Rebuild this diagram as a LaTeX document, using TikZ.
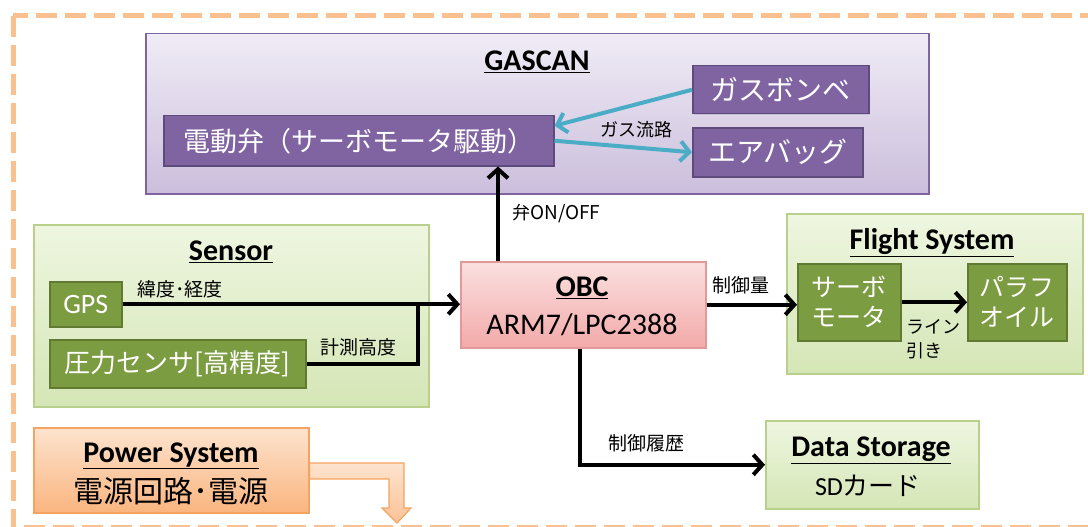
\documentclass[tikz,border=0pt]{standalone}
\usepackage{fontspec}
\setmainfont{Carlito}
\newfontfamily\jp{Noto Sans CJK JP}
\usetikzlibrary{arrows.meta,shadows}
\definecolor{dashorange}{HTML}{FAC090}
\definecolor{purpB}{HTML}{8064A2}
\definecolor{purpD}{HTML}{5F4A7D}
\definecolor{purpT}{HTML}{F0ECF6}
\definecolor{purpBot}{HTML}{CBBEDC}
\definecolor{grnT}{HTML}{EEF6E0}
\definecolor{grnBot}{HTML}{D5E6B6}
\definecolor{grnB}{HTML}{B9D08C}
\definecolor{grnIn}{HTML}{7C9C42}
\definecolor{grnInB}{HTML}{617A31}
\definecolor{pinkT}{HTML}{FBE0E0}
\definecolor{pinkBot}{HTML}{F3A9A9}
\definecolor{pinkB}{HTML}{E29A98}
\definecolor{orT}{HTML}{FDE3CE}
\definecolor{orBot}{HTML}{FAB57F}
\definecolor{orB}{HTML}{F4A460}
\definecolor{cyanA}{HTML}{4BACC6}
\tikzset{
  box/.style={anchor=north west, inner sep=0pt, align=center, drop shadow={shadow xshift=1.5pt,shadow yshift=-1.5pt,opacity=0.25}},
  outerP/.style={box, draw=purpB, line width=1.5pt, top color=purpT, bottom color=purpBot},
  innerP/.style={box, draw=purpD, line width=1.5pt, fill=purpB, text=white, font=\jp\fontsize{28}{32}\selectfont},
  outerG/.style={box, draw=grnB, line width=1.5pt, top color=grnT, bottom color=grnBot},
  innerG/.style={box, draw=grnInB, line width=1.5pt, fill=grnIn, text=white, font=\jp\fontsize{25}{30}\selectfont},
  pinkbox/.style={box, draw=pinkB, line width=1.5pt, top color=pinkT, bottom color=pinkBot},
  orbox/.style={box, draw=orB, line width=1.5pt, top color=orT, bottom color=orBot},
  ttl/.style={font=\bfseries\fontsize{30}{34}\selectfont},
  lbl/.style={font=\jp\fontsize{19}{22}\selectfont, inner sep=0pt},
  arr/.style={draw=black, line width=4pt, -{Straight Barb[length=9pt,width=20pt,line width=4pt]}},
  plain/.style={draw=black, line width=4pt},
  carr/.style={draw=cyanA, line width=4pt, -{Straight Barb[length=9pt,width=20pt,line width=4pt]}},
}
\begin{document}
\begin{tikzpicture}[x=1pt,y=-1pt]
\useasboundingbox (0,0) rectangle (1088,527);
% outer dashed frame
\draw[dashorange, line width=5pt, dash pattern=on 21pt off 8pt] (13,16) rectangle (1090,527);

% GASCAN
\node[outerP, minimum width=783pt, minimum height=160pt] (gascan) at (145,33) {};
\node[ttl] (gascanT) at (537,62) {\underline{GASCAN}};
\node[innerP, minimum width=390pt, minimum height=50pt, font=\jp\fontsize{27}{30}\selectfont] (valve) at (163,115) {電動弁（サーボモータ駆動）};
\node[innerP, minimum width=176pt, minimum height=48pt] (bombe) at (692,65) {ガスボンベ};
\node[innerP, minimum width=170pt, minimum height=49pt] (air) at (692,127) {エアバッグ};
\draw[carr] (bombe.west) -- ([yshift=15pt]valve.east);
\draw[carr] (valve.east) -- (air.west);
\node[lbl, font=\jp\fontsize{18}{22}\selectfont] (gasL) at (636,130) {ガス流路};

% Sensor
\node[outerG, minimum width=395pt, minimum height=182pt] (sensor) at (33,224) {};
\node[ttl] (sensorT) at (231,252) {\underline{Sensor}};
\node[innerG, minimum width=72pt, minimum height=45pt, font=\fontsize{28}{32}\selectfont] (gps) at (49,281) {GPS};
\node[innerG, minimum width=256pt, minimum height=48pt, font=\jp\fontsize{26}{30}\selectfont] (press) at (49,339) {圧力センサ[高精度]};
\node[lbl] (gpsL) at (180,289) {緯度･経度};
\node[lbl] (pressL) at (358,347) {計測高度};

% OBC
\node[pinkbox, minimum width=245pt, minimum height=86pt] (obc) at (460,261) {};
\node[ttl] (obcT) at (582,288) {\underline{OBC}};
\node[font=\fontsize{30}{34}\selectfont] (obcS) at (582,325) {ARM7/LPC2388};

\coordinate (join) at (418,305);
\draw[arr] (gps.east) -- (gps.east -| obc.west);
\draw[plain] (press.east) -| (join);

% up arrow to valve
\draw[arr] ([xshift=38pt]obc.north west) -- ([xshift=38pt]obc.north west |- valve.south);
\node[lbl, anchor=west] (onoffL) at (512,214) {{\jp\fontsize{18}{22}\selectfont 弁}\fontsize{19}{22}\selectfont ON/OFF};

% Flight System
\node[outerG, minimum width=296pt, minimum height=160pt] (flight) at (786,213) {};
\node[ttl] (flightT) at (932,243) {\underline{Flight System}};
\node[innerG, minimum width=103pt, minimum height=77pt] (servo) at (797,263) {サーボ\\モータ};
\node[innerG, minimum width=99pt, minimum height=77pt] (para) at (967,263) {パラフ\\オイル};
\draw[arr] (obc.east) -- (obc.east -| servo.west);
\node[lbl] (ctrlL) at (741,285) {制御量};
\draw[arr] (servo.east) -- (para.west);
\node[lbl, align=left, font=\jp\fontsize{18}{24}\selectfont] (lineL) at (933,339) {ライン\\引き};

% Data storage
\node[outerG, minimum width=213pt, minimum height=88pt] (ds) at (765,420) {};
\node[ttl] (dsT) at (871,450) {\underline{Data Storage}};
\node[font=\fontsize{26}{30}\selectfont] (dsS) at (868,486) {SD{\jp カード}};
\draw[arr] ([xshift=120pt]obc.south west) |- (ds.west);
\node[lbl] (histL) at (646,443) {制御履歴};

% Power system
\node[orbox, minimum width=275pt, minimum height=85pt] (power) at (33,427) {};
\node[ttl] (powerT) at (171,456) {\underline{Power System}};
\node[font=\jp\fontsize{30}{34}\selectfont] (powerS) at (171,491) {電源回路･電源};
\shade[top color=orT, bottom color=orBot!70!orT, draw=orB, line width=1.2pt]
  (power.east |- 0,463) -- (404,463) -- (404,508) -- (411,508) -- (397,523) -- (382,508) -- (389,508) -- (389,479) -- (power.east |- 0,479) -- cycle;
\end{tikzpicture}
\end{document}
